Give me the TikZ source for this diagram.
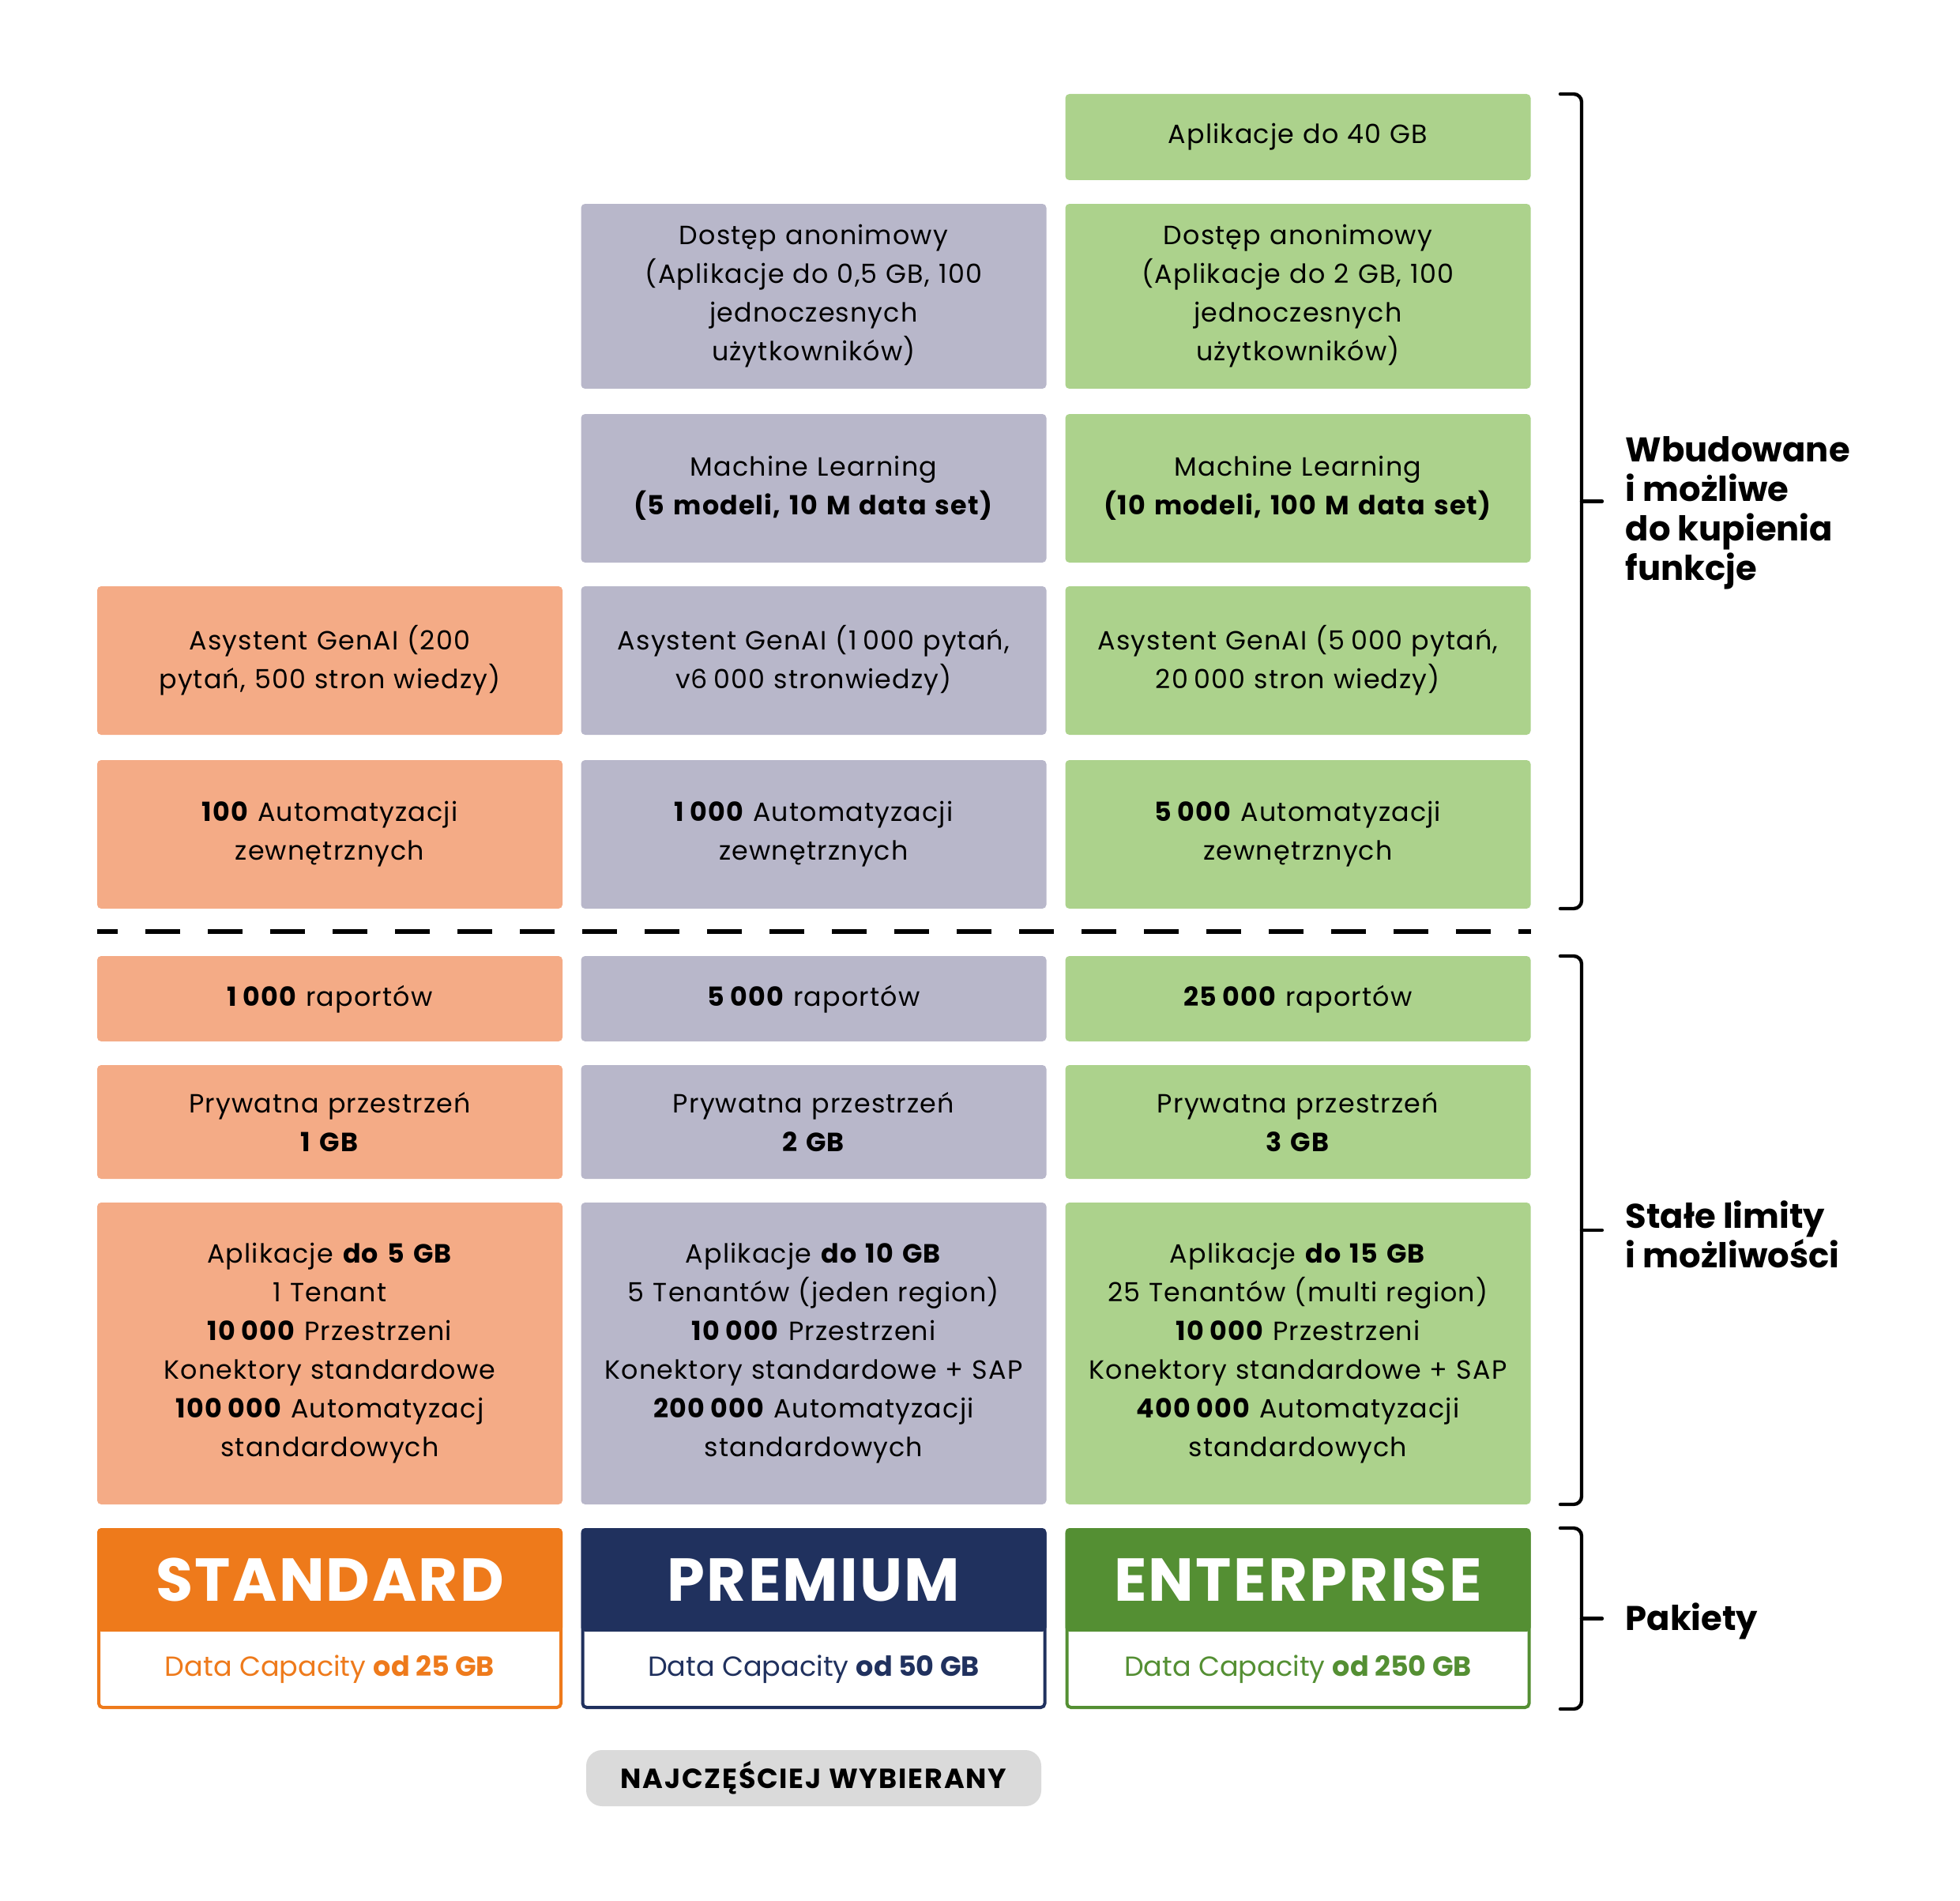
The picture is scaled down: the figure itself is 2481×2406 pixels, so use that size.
\documentclass[tikz,border=0pt]{standalone}
\usepackage{fontspec}
\setmainfont{Poppins}
\newfontfamily\bodyfont[LetterSpace=3.5]{Poppins}
\newfontfamily\headfont[LetterSpace=3]{Poppins}
\newfontfamily\pillfont[LetterSpace=5]{Poppins}
\newcommand\ns{\hspace{0.22em}}
\definecolor{cO}{HTML}{F4AB86}
\definecolor{cP}{HTML}{B8B7CA}
\definecolor{cE}{HTML}{ACD28C}
\definecolor{dO}{HTML}{EE7A1B}
\definecolor{dP}{HTML}{20315E}
\definecolor{dE}{HTML}{548F33}
\definecolor{pill}{HTML}{DADADA}
\begin{document}
\begin{tikzpicture}[x=0.3pt,y=-0.3pt,
  cell/.style={rounded corners=1.5pt, inner sep=0pt, align=center, text width=176pt,
    minimum width=176.7pt, font=\bodyfont\fontsize{10}{14.7}\selectfont},
  rA/.style={minimum height=32.7pt},
  rB/.style={minimum height=70.2pt},
  rC/.style={minimum height=56.4pt},
  rD/.style={minimum height=32.4pt},
  rE/.style={minimum height=43.2pt},
  rF/.style={minimum height=114.6pt},
  pkbody/.style={rounded corners=1.5pt, fill=white, line width=1.2pt, minimum width=175.5pt, minimum height=67.5pt, inner sep=0pt},
  pkhead/.style={rounded corners=1.5pt, minimum width=176.7pt, minimum height=39.3pt, inner sep=0pt, text=white, font=\headfont\fontsize{23}{26}\selectfont\bfseries},
  pkcap/.style={font=\fontsize{10.5}{13}\selectfont, inner sep=0pt},
  bracket/.style={line width=1.3pt, rounded corners=3pt, line cap=round},
  lab/.style={anchor=west, align=left, inner sep=0pt, font=\fontsize{13}{15}\selectfont\bfseries},
]
\useasboundingbox (0,0) rectangle (2481,2406);

% ---- Enterprise only row
\node[cell, rA, fill=cE] (e1) at (1643,173.5) {Aplikacje do 40 GB};
% ---- Dostęp anonimowy
\node[cell, rB, fill=cP] (p2) at (1030,375) {Dostęp anonimowy\\(Aplikacje do 0,5 GB, 100\\jednoczesnych\\użytkowników)};
\node[cell, rB, fill=cE] (e2) at (1643,375) {Dostęp anonimowy\\(Aplikacje do 2 GB, 100\\jednoczesnych\\użytkowników)};
% ---- Machine Learning
\node[cell, rC, fill=cP] (p3) at (1030,618) {Machine Learning\\\textbf{(5 modeli, 10 M data set)}};
\node[cell, rC, fill=cE] (e3) at (1643,618) {Machine Learning\\\textbf{(10 modeli, 100 M data set)}};
% ---- GenAI
\node[cell, rC, fill=cO] (s4) at (417.5,836) {Asystent GenAI (200\\pytań, 500 stron wiedzy)};
\node[cell, rC, fill=cP] (p4) at (1030,836) {Asystent GenAI (1\ns000 pytań,\\v6\ns000 stronwiedzy)};
\node[cell, rC, fill=cE] (e4) at (1643,836) {Asystent GenAI (5\ns000 pytań,\\20\ns000 stron wiedzy)};
% ---- Automatyzacje zewnętrzne
\node[cell, rC, fill=cO] (s5) at (417.5,1056) {\textbf{100} Automatyzacji\\zewnętrznych};
\node[cell, rC, fill=cP] (p5) at (1030,1056) {\textbf{1\ns000} Automatyzacji\\zewnętrznych};
\node[cell, rC, fill=cE] (e5) at (1643,1056) {\textbf{5\ns000} Automatyzacji\\zewnętrznych};

% ---- dashed separator
\coordinate (dl) at (123,1179);
\coordinate (dr) at (1938,1179);
\draw[line width=1.6pt, dash pattern=on 13.2pt off 10.5pt, dash phase=5.4pt] (dl) -- (dr);

% ---- raporty
\node[cell, rD, fill=cO, text depth=2pt] (s6) at (417.5,1264) {\textbf{1\ns000} raportów};
\node[cell, rD, fill=cP, text depth=2pt] (p6) at (1030,1264) {\textbf{5\ns000} raportów};
\node[cell, rD, fill=cE, text depth=2pt] (e6) at (1643,1264) {\textbf{25\ns000} raportów};
% ---- Prywatna przestrzeń
\node[cell, rE, fill=cO] (s7) at (417.5,1420) {Prywatna przestrzeń\\\textbf{1 GB}};
\node[cell, rE, fill=cP] (p7) at (1030,1420) {Prywatna przestrzeń\\\textbf{2 GB}};
\node[cell, rE, fill=cE] (e7) at (1643,1420) {Prywatna przestrzeń\\\textbf{3 GB}};
% ---- Aplikacje
\node[cell, rF, fill=cO] (s8) at (417.5,1713) {Aplikacje \textbf{do 5 GB}\\1 Tenant\\\textbf{10\ns000} Przestrzeni\\Konektory standardowe\\\textbf{100\ns000} Automatyzacj\\standardowych};
\node[cell, rF, fill=cP] (p8) at (1030,1713) {Aplikacje \textbf{do 10 GB}\\5 Tenantów (jeden region)\\\textbf{10\ns000} Przestrzeni\\Konektory standardowe + SAP\\\textbf{200\ns000} Automatyzacji\\standardowych};
\node[cell, rF, fill=cE] (e8) at (1643,1713) {Aplikacje \textbf{do 15 GB}\\25 Tenantów (multi region)\\\textbf{10\ns000} Przestrzeni\\Konektory standardowe + SAP\\\textbf{400\ns000} Automatyzacji\\standardowych};

% ---- Packages
\node[pkbody, draw=dO] (sb) at (417.5,2048.5) {};
\node[pkbody, draw=dP] (pb) at (1030,2048.5) {};
\node[pkbody, draw=dE] (eb) at (1643,2048.5) {};
\node[pkhead, fill=dO] (sh) at (417.5,1999.5) {STANDARD};
\node[pkhead, fill=dP] (ph) at (1030,1999.5) {PREMIUM};
\node[pkhead, fill=dE] (eh) at (1643,1999.5) {ENTERPRISE};
\node[pkcap, text=dO] (sc) at (417.5,2113) {Data Capacity \textbf{od 25 GB}};
\node[pkcap, text=dP] (pc) at (1030,2113) {Data Capacity \textbf{od 50 GB}};
\node[pkcap, text=dE] (ec) at (1643,2113) {Data Capacity \textbf{od 250 GB}};

% ---- pill
\node[fill=pill, rounded corners=6pt, minimum width=172.8pt, minimum height=21.3pt, inner sep=0pt,
  font=\pillfont\fontsize{10.5}{12}\selectfont\bfseries] (pill) at (1030,2250.5) {NAJCZĘŚCIEJ WYBIERANY};

% ---- brackets
\draw[bracket] (1975,119) -- (2002,119) -- (2002,1150) -- (1975,1150);
\draw[bracket] (2002,634.5) -- (2028,634.5);
\draw[bracket] (1975,1210) -- (2002,1210) -- (2002,1904) -- (1975,1904);
\draw[bracket] (2002,1557) -- (2028,1557);
\draw[bracket] (1975,1934) -- (2002,1934) -- (2002,2163) -- (1975,2163);
\draw[bracket] (2002,2048.5) -- (2028,2048.5);

% ---- labels
\node[lab] (l1) at (2057,649) {Wbudowane\\i możliwe\\do kupienia\\funkcje};
\node[lab] (l2) at (2057,1562) {Stałe limity\\i możliwości};
\node[lab] (l3) at (2057,2052) {Pakiety};
\end{tikzpicture}
\end{document}
